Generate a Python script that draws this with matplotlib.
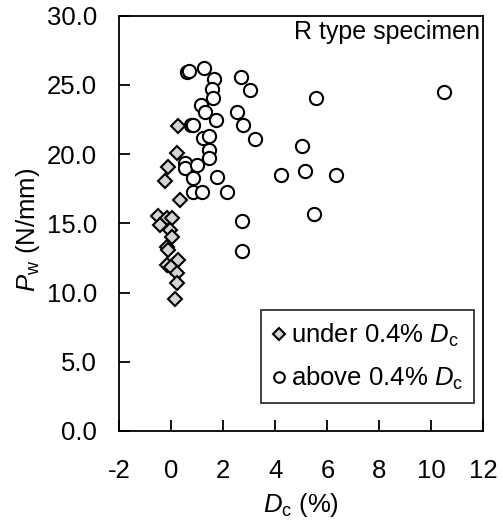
import matplotlib
matplotlib.use("Agg")
import matplotlib.pyplot as plt

plt.rcParams['font.family'] = ['Liberation Sans', 'DejaVu Sans']
plt.rcParams['mathtext.fontset'] = 'custom'
plt.rcParams['mathtext.rm'] = 'Liberation Sans'
plt.rcParams['mathtext.it'] = 'Liberation Sans:italic'

# under 0.4% Dc (diamonds)
under_x = [0.27, 0.21, -0.14, -0.24, 0.33, -0.50, -0.18, 0.01, -0.43, -0.05, 0.01,
           -0.18, -0.12, 0.27, -0.18, -0.01, 0.21, 0.21, 0.14]
under_y = [22.06, 20.11, 19.10, 18.06, 16.69, 15.53, 15.37, 15.37, 14.88, 14.52, 14.00,
           13.27, 13.05, 12.36, 12.00, 11.87, 11.39, 10.67, 9.50]

# above 0.4% Dc (circles)
above_x = [0.62, 0.68, 1.27, 1.65, 1.55, 1.62, 1.14, 1.30, 1.72, 0.75, 0.82, 1.23, 1.46,
           1.46, 1.46, 0.53, 0.53, 1.00, 0.85, 1.75, 0.85, 1.17, 2.13, 2.66, 3.03, 2.52,
           2.77, 3.22, 2.71, 2.71, 5.57, 5.02, 4.21, 5.14, 6.33, 5.49, 10.49]
above_y = [25.95, 26.00, 26.25, 25.45, 24.69, 24.08, 23.55, 23.03, 22.45, 22.10, 22.10,
           21.15, 21.31, 20.30, 19.75, 19.39, 18.98, 19.22, 18.26, 18.37, 17.29, 17.25,
           17.25, 25.55, 24.60, 23.05, 22.11, 21.08, 15.20, 13.00, 24.08, 20.59, 18.50,
           18.81, 18.50, 15.68, 24.52]

x_ticks = [-2, 0, 2, 4, 6, 8, 10, 12]
y_ticks = [0, 5, 10, 15, 20, 25, 30]
y_ticklabels = ['0.0', '5.0', '10.0', '15.0', '20.0', '25.0', '30.0']

fig = plt.figure(figsize=(5.03, 5.30), dpi=100)
ax = fig.add_axes([0.2372, 0.1868, 0.7240, 0.7836])

ax.plot(above_x, above_y, linestyle='none', marker='o', markersize=9.5,
        markerfacecolor='white', markeredgecolor='black', markeredgewidth=1.5,
        label=r'above 0.4% $D_\mathrm{c}$', zorder=3)
ax.plot(under_x, under_y, linestyle='none', marker='D', markersize=7.3,
        markerfacecolor='#d4d4d4', markeredgecolor='black', markeredgewidth=1.5,
        label=r'under 0.4% $D_\mathrm{c}$', zorder=4)

ax.set_xlim(-2, 12)
ax.set_ylim(0, 30)
ax.set_xticks(x_ticks)
ax.set_xticklabels([str(t) for t in x_ticks])
ax.set_yticks(y_ticks)
ax.set_yticklabels(y_ticklabels)
ax.tick_params(axis='both', direction='in', length=8, width=1.3, labelsize=18.5)
ax.tick_params(axis='x', pad=20)
ax.tick_params(axis='y', pad=16)
for s in ax.spines.values():
    s.set_linewidth(1.3)

ax.set_xlabel(r'$D_\mathrm{c}$ (%)', fontsize=18.5, va='center')
ax.xaxis.set_label_coords(0.499, -0.178)
ax.set_ylabel(r'$P_\mathrm{w}$ (N/mm)', fontsize=18.5, va='center')
ax.yaxis.set_label_coords(-0.25, 0.484)

ax.text(0.990, 0.944, 'R type specimen', transform=ax.transAxes, ha='right',
        va='baseline', fontsize=18)

h, l = ax.get_legend_handles_labels()
leg = ax.legend([h[1], h[0]], [l[1], l[0]], loc='lower right',
                bbox_to_anchor=(0.975, 0.0667), borderaxespad=0, fontsize=18.5,
                frameon=True, fancybox=False, handlelength=0.5, handletextpad=0.2,
                labelspacing=0.6, borderpad=0.45, markerscale=0.8)
leg.get_frame().set_edgecolor('black')
leg.get_frame().set_linewidth(1.3)

fig.savefig('out.png', dpi=100)
